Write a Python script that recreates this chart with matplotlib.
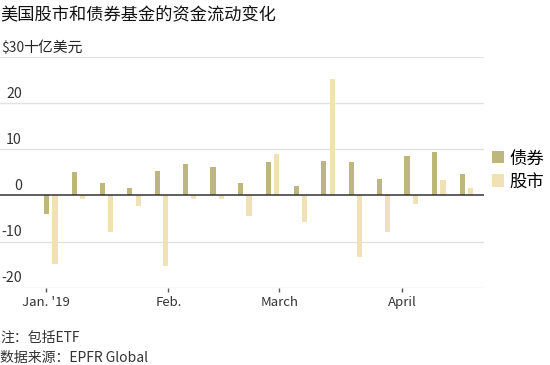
import matplotlib
matplotlib.use("Agg")
import matplotlib.pyplot as plt
import matplotlib.dates as mdates
from matplotlib.patches import Patch
import numpy as np
import datetime as dt

plt.rcParams['font.family'] = ['Noto Sans CJK SC', 'DejaVu Sans']

# Data (billions USD, weekly flows)
week_dates = [dt.date(2019, 1, 2) + dt.timedelta(days=7 * i) for i in range(16)]
bond_flows = [-4.0, 5.1, 2.8, 1.6, 5.3, 6.8, 6.1, 2.6, 7.3, 2.0, 7.5, 7.3, 3.6, 8.5, 9.5, 4.6]
equity_flows = [-14.9, -0.8, -8.0, -2.3, -15.4, -0.8, -0.8, -4.5, 9.0, -5.7, 25.3, -13.4, -8.0, -1.8, 3.3, 1.6]
series_names = ['债券', '股市']
month_ticks = [dt.date(2019, 1, 1), dt.date(2019, 2, 1), dt.date(2019, 3, 1), dt.date(2019, 4, 1)]
month_labels = ["Jan. '19", 'Feb.', 'March', 'April']
y_ticks = [-20, -10, 0, 10, 20, 30]
y_labels = ['-20', '-10', '0', '10', '20', '$30']

bond_color = '#bdb77f'
equity_color = '#f0e2b6'

fig = plt.figure(figsize=(5.5, 3.65), dpi=100)
ax = fig.add_axes([0.0, 1 - 287.7 / 365, 484 / 550, (287.7 - 57) / 365])

x = mdates.date2num(week_dates)
bw = 1.3
ax.bar(x - 0.75, bond_flows, width=bw, color=bond_color, zorder=2)
ax.bar(x + 1.35, equity_flows, width=bw, color=equity_color, zorder=2)

jan1 = mdates.date2num(dt.date(2019, 1, 1))
ax.set_xlim(jan1 - 11.54, jan1 + 110.7)
ax.set_ylim(-20, 30)

for s in ax.spines.values():
    s.set_visible(False)

for v in y_ticks:
    if v == 0:
        ax.axhline(0, color='#333333', lw=1.1, zorder=3)
    else:
        ax.axhline(v, color='#e2e2e2', lw=1.0, zorder=1)

ax.set_yticks([])
for v, lab in zip(y_ticks, y_labels):
    if v == 30:
        ax.annotate(lab, xy=(0, v), xycoords=('axes fraction', 'data'),
                    xytext=(1, 2.5), textcoords='offset pixels',
                    ha='left', va='bottom', fontsize=10.0, color='#333333')
    else:
        ax.annotate(lab, xy=(0, v), xycoords=('axes fraction', 'data'),
                    xytext=(22, 2.5), textcoords='offset pixels',
                    ha='right', va='bottom', fontsize=10.2, color='#333333')
ax.annotate('十亿美元', xy=(0, 30), xycoords=('axes fraction', 'data'),
            xytext=(23, 2.5), textcoords='offset pixels',
            ha='left', va='bottom', fontsize=10.7, color='#222222')

ax.set_xticks(mdates.date2num(month_ticks))
ax.set_xticklabels(month_labels, fontsize=9.5, color='#333333')
ax.tick_params(axis='x', length=3, width=1, color='#555555', pad=3)

handles = [Patch(facecolor=bond_color, edgecolor='none'),
           Patch(facecolor=equity_color, edgecolor='none')]
fig.legend(handles, series_names, loc='center left',
           bbox_to_anchor=(492 / 550, 1 - 170 / 365), frameon=False,
           fontsize=12.5, handlelength=0.7, handleheight=0.7, handletextpad=0.3,
           labelspacing=0.3, borderaxespad=0, borderpad=0)

fig.text(0.0, 1 - 15 / 365, '美国股市和债券基金的资金流动变化', fontsize=12.4,
         fontweight='medium', ha='left', va='center', color='#111111')
fig.text(0.0, 1 - 338 / 365, '注：包括ETF', fontsize=10, ha='left', va='center', color='#333333')
fig.text(0.0, 1 - 358 / 365, '数据来源：EPFR Global', fontsize=10, ha='left', va='center', color='#333333')

fig.savefig('out.png', dpi=100)
